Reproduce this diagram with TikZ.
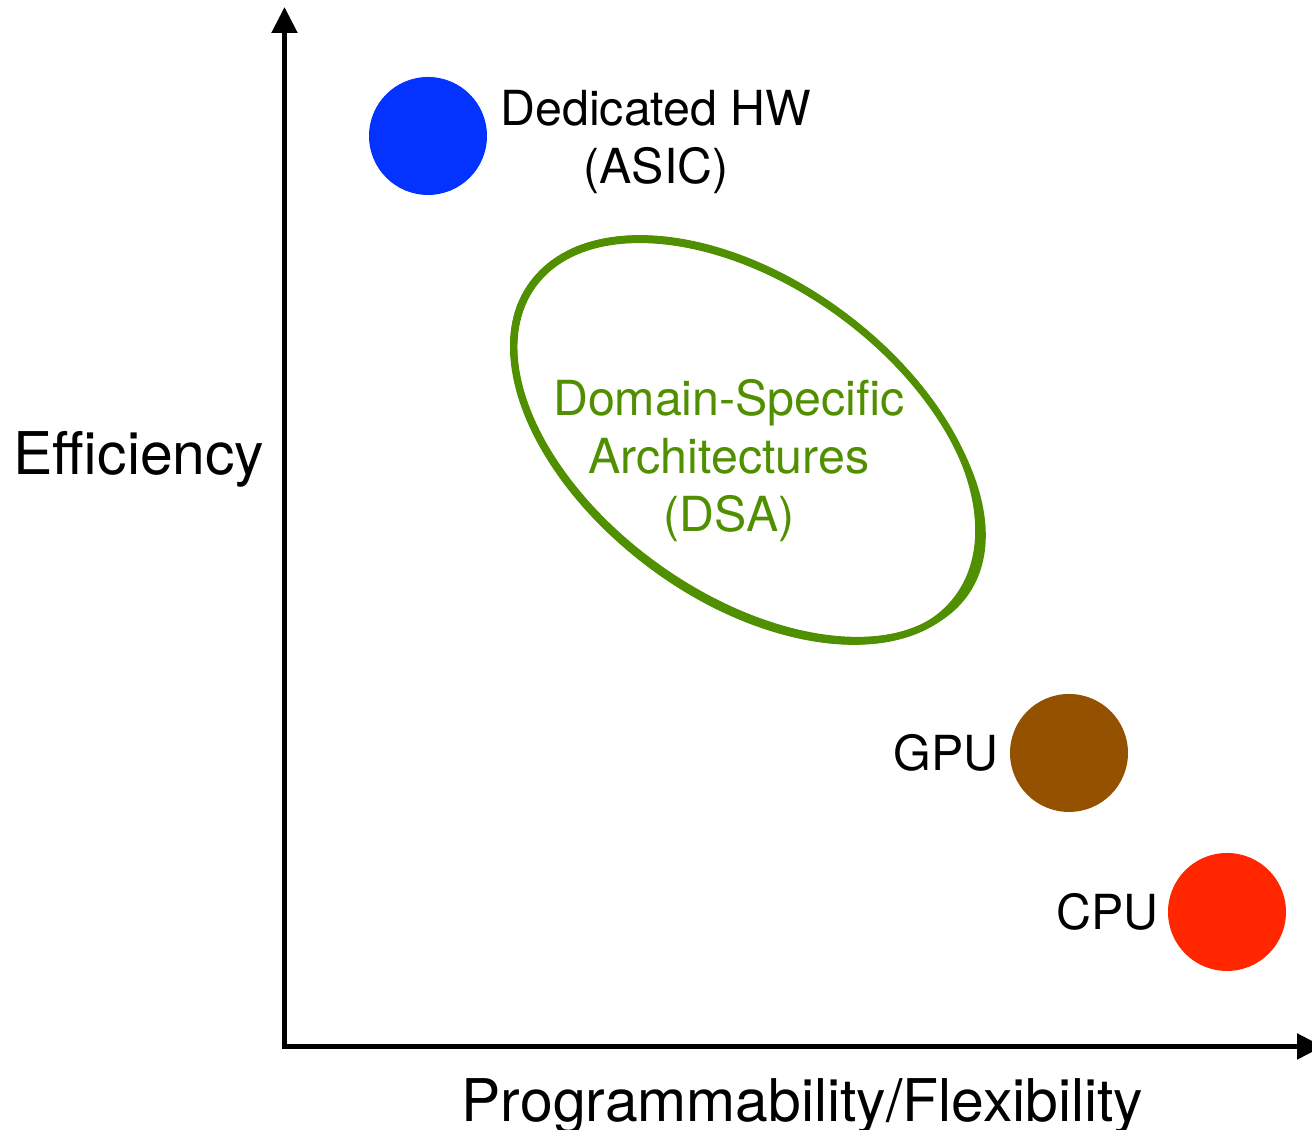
\documentclass[tikz,border=0pt]{standalone}
\usepackage{fontspec}
\setmainfont{TeX Gyre Heros}
\usepackage{tikz}
\usetikzlibrary{positioning, shapes.geometric, arrows.meta}

\definecolor{asicblue}{HTML}{0433FF}
\definecolor{gpubrown}{HTML}{945200}
\definecolor{cpured}{HTML}{FF2600}
\definecolor{dsagreen}{HTML}{4F8F00}

\tikzset{
	axis/.style={line width=1.45pt, {Triangle[length=0.26cm,width=0.25cm]}-{Triangle[length=0.26cm,width=0.25cm]}},
	chip/.style={circle, fill=#1, minimum size=1.18cm, inner sep=0pt},
	axislabel/.style={inner sep=0pt, font=\fontsize{16.75}{19}\selectfont},
	chiplabel/.style={inner sep=0pt, align=center, font=\fontsize{13.75}{16.6}\selectfont},
}

\begin{document}
\begin{tikzpicture}[scale = 1]
	\useasboundingbox (0,0) rectangle (13.12,11.30);
	% axes
	\coordinate (origin) at (2.845,0.835);
	\coordinate (ytip) at (2.845,11.23);
	\coordinate (xtip) at (13.23,0.835);
	\draw[axis] (ytip) -- (origin) -- (xtip);
	\node[axislabel, anchor=base west] (eff) at (0.13,6.55) {Efficiency};
	\node[axislabel, anchor=base west] (prog) at (4.61,0.08) {Programmability/Flexibility};
	% hardware points
	\node[chip=asicblue] (asic) at (4.28,9.94) {};
	\node[chip=gpubrown] (gpu) at (10.69,3.77) {};
	\node[chip=cpured] (cpu) at (12.27,2.18) {};
	\node[chiplabel, anchor=base] (asiclabel) at (6.56,9.46) {Dedicated HW\\(ASIC)};
	\node[chiplabel, anchor=base east] (gpulabel) at (9.99,3.59) {GPU};
	\node[chiplabel, anchor=base east] (cpulabel) at (11.59,2.00) {CPU};
	% sketchy DSA ellipse
	\foreach \dx/\da/\db/\rot/\lw in {0/0/0/-36/2.0, 0.01/0.03/-0.02/-35.2/0.7, -0.01/-0.03/0.02/-36.8/0.7, 0/0.02/0.03/-36.3/0.5, 0.015/-0.02/-0.03/-35.6/0.5}
		\draw[dsagreen, line width=\lw pt] (7.47+\dx,6.90) ellipse[x radius=2.65cm+\da cm, y radius=1.57cm+\db cm, rotate=\rot];
	\node[chiplabel, text=dsagreen, anchor=base] (dsa) at (7.29,5.98) {Domain-Specific\\Architectures\\(DSA)};
\end{tikzpicture}
\end{document}
